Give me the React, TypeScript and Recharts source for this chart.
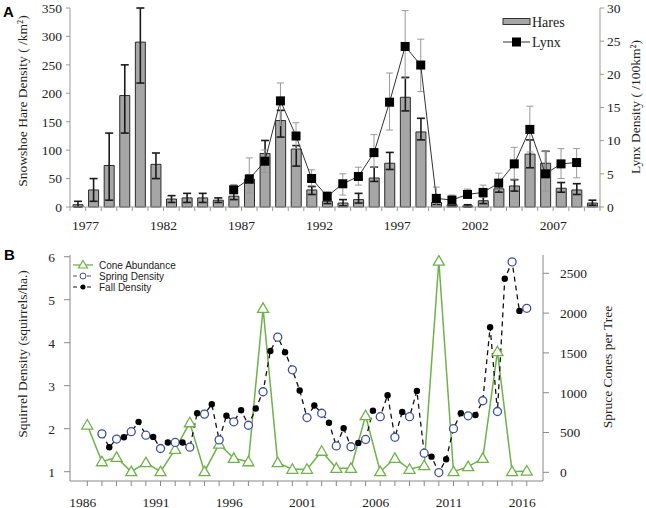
import React from 'react'
import { ComposedChart, Bar, Line, XAxis, YAxis, ErrorBar, Legend } from 'recharts'

// ---- Panel A: hares (bars) and lynx (line) ----
const hareYears = [
  1977, 1978, 1979, 1980, 1981, 1982, 1983, 1984, 1985, 1986, 1987, 1988,
  1989, 1990, 1991, 1992, 1993, 1994, 1995, 1996, 1997, 1998, 1999, 2000,
  2001, 2002, 2003, 2004, 2005, 2006, 2007, 2008, 2009, 2010,
]
const hares = [4, 30, 73, 196, 290, 75, 14, 16, 16, 12, 19, 49, 94, 152, 102, 30, 10, 7, 13, 51, 77, 193, 132, 8, 4, 2, 11, 32, 37, 93, 77, 33, 30, 7]
const hareLo = [0, 10, 12, 130, 218, 50, 8, 8, 8, 8, 13, 43, 78, 123, 72, 22, 6, 2, 7, 45, 66, 169, 118, 4, 2, 0, 6, 26, 28, 69, 54, 26, 22, 3]
const hareHi = [10, 50, 130, 250, 350, 95, 20, 24, 24, 16, 25, 56, 117, 170, 108, 36, 14, 13, 24, 70, 96, 228, 156, 12, 6, 4, 18, 40, 48, 118, 98, 43, 41, 12]

const lynxYears = [
  1987, 1988, 1989, 1990, 1991, 1992, 1993, 1994, 1995, 1996, 1997, 1998,
  1999, 2000, 2001, 2002, 2003, 2004, 2005, 2006, 2007, 2008, 2009,
]
const lynx = [2.6, 4.2, 6.9, 16.0, 10.7, 4.3, 1.6, 3.5, 4.6, 8.2, 15.8, 24.2, 21.4, 1.3, 1.05, 1.9, 2.2, 3.6, 6.5, 11.7, 5.0, 6.5, 6.7]
const lynxLo = [2.0, 2.1, 5.2, 12.3, 8.8, 3.2, 1.0, 1.8, 3.3, 6.0, 11.6, 19.4, 17.4, 0.2, 0.4, 1.3, 1.5, 2.6, 4.2, 8.3, 2.4, 4.3, 4.4]
const lynxHi = [3.4, 7.4, 8.6, 18.7, 12.7, 5.6, 2.3, 5.0, 6.0, 10.9, 20.2, 29.6, 25.3, 3.0, 1.8, 2.7, 3.3, 5.1, 9.0, 15.2, 8.4, 8.8, 8.8]

const hareTicks = [0, 50, 100, 150, 200, 250, 300, 350]
const lynxTicks = [0, 5, 10, 15, 20, 25, 30]

// ---- Panel B: squirrels and cones ----
const coneYears = [
  1986, 1987, 1988, 1989, 1990, 1991, 1992, 1993, 1994, 1995, 1996, 1997,
  1998, 1999, 2000, 2001, 2002, 2003, 2004, 2005, 2006, 2007, 2008, 2009,
  2010, 2011, 2012, 2013, 2014, 2015, 2016,
]
const cones = [594, 133, 188, 8, 121, 8, 289, 623, 8, 355, 176, 133, 2060, 121, 38, 38, 265, 50, 50, 711, 8, 176, 38, 83, 2654, 8, 71, 176, 1515, 8, 16]

const springYears = [
  1987, 1988, 1989, 1990, 1991, 1992, 1993, 1994, 1995, 1996, 1997, 1998,
  1999, 2000, 2001, 2002, 2003, 2004, 2005, 2006, 2007, 2008, 2009, 2010,
  2011, 2012, 2013, 2014, 2015, 2016,
]
const spring = [1.88, 1.76, 1.93, 1.85, 1.54, 1.68, 1.57, 2.34, 1.74, 2.16, 2.08, 2.86, 4.13, 3.37, 2.26, 2.36, 1.60, 1.58, 1.75, 2.28, 1.80, 2.28, 1.43, 0.98, 2.00, 2.30, 2.65, 2.40, 5.88, 4.80]

const fallYears = [
  1987, 1988, 1989, 1990, 1991, 1992, 1993, 1994, 1995, 1996, 1997, 1998,
  1999, 2000, 2001, 2002, 2003, 2004, 2005, 2006, 2007, 2008, 2009, 2010,
  2011, 2012, 2013, 2014, 2015,
]
const fall = [1.57, 1.80, 2.16, 1.81, 1.68, 1.68, 2.36, 2.57, 2.30, 2.43, 2.47, 3.81, 3.78, 2.89, 2.54, 2.14, 2.01, 1.67, 2.42, 2.78, 2.39, 2.88, 1.35, 1.29, 2.36, 2.32, 4.36, 5.49, 4.74]

const squirrelTicks = [1, 2, 3, 4, 5, 6]
const coneTicks = [0, 500, 1000, 1500, 2000, 2500]

// tables
const hareRows = hareYears.map((year, i) => {
  const j = lynxYears.indexOf(year)
  return {
    year,
    hares: hares[i],
    hareErr: [hares[i] - hareLo[i], hareHi[i] - hares[i]],
    lynx: j >= 0 ? lynx[j] : null,
    lynxErr: j >= 0 ? [lynx[j] - lynxLo[j], lynxHi[j] - lynx[j]] : null,
  }
})

const coneRows = coneYears.map((year, i) => ({ year, cones: cones[i] }))

// spring counts in spring, fall counts half a year later
const squirrelRows = [
  ...springYears.map((year, i) => ({ year, dens: spring[i], season: 'spring' })),
  ...fallYears.map((year, i) => ({ year: year + 0.5, dens: fall[i], season: 'fall' })),
].sort((a, b) => a.year - b.year)

const SERIF = '"Liberation Serif", "Times New Roman", serif'
const SANS = '"Liberation Sans", Arial, sans-serif'
const GREEN = '#6fb24a'
const BLUE = '#3d4fa1'

const A_PLOT_W = 530
const BAND = A_PLOT_W / hareYears.length

const VTitle = ({ cx, cy, text }: { cx: number; cy: number; text: string }) => (
  <text
    transform={`translate(${cx},${cy}) rotate(-90)`}
    textAnchor="middle"
    dominantBaseline="central"
    fontFamily={SERIF}
    fontSize={13.5}
    fill="#222"
  >
    {text}
  </text>
)

const YearTickA = (props: any) => {
  const { x, y, payload, index } = props
  const yr = Number(payload.value)
  const half = BAND / 2
  return (
    <g>
      <line x1={x - half} x2={x - half} y1={y} y2={y + 4} stroke="#999" />
      {index === hareYears.length - 1 && (
        <line x1={x + half} x2={x + half} y1={y} y2={y + 4} stroke="#999" />
      )}
      {(yr - 1977) % 5 === 0 && (
        <text x={x + half} y={y + 18} textAnchor="middle" dominantBaseline="central"
          fontFamily={SERIF} fontSize={13.5} fill="#222">
          {yr}
        </text>
      )}
    </g>
  )
}

const YearTickB = (props: any) => {
  const { x, y, payload } = props
  const yr = Number(payload.value)
  return (
    <g>
      <line x1={x} x2={x} y1={y} y2={y + 5} stroke="#888" />
      {(yr - 1986) % 5 === 0 && (
        <text x={x - 4.5} y={y + 21} textAnchor="middle" dominantBaseline="central"
          fontFamily={SERIF} fontSize={13.5} fill="#222">
          {yr}
        </text>
      )}
    </g>
  )
}

const LynxDot = (props: any) => {
  const { cx, cy, index } = props
  if (cx == null || cy == null) return <g key={`ld${index}`} />
  return <rect key={`ld${index}`} x={cx - 4.5} y={cy - 4.5} width={9} height={9} fill="#000" />
}

const TriDot = (props: any) => {
  const { cx, cy, index } = props
  if (cx == null || cy == null) return <g key={`td${index}`} />
  return (
    <path
      key={`td${index}`}
      d={`M${cx},${cy - 5.5} L${cx + 5.5},${cy + 4} L${cx - 5.5},${cy + 4} Z`}
      fill="#fff"
      stroke={GREEN}
      strokeWidth={1.3}
    />
  )
}

const SquirrelDot = (props: any) => {
  const { cx, cy, index, payload } = props
  if (cx == null || cy == null) return <g key={`sd${index}`} />
  if (payload.season === 'spring') {
    return <circle key={`sd${index}`} cx={cx} cy={cy} r={4} fill="#fff" stroke={BLUE} strokeWidth={1.3} />
  }
  return <circle key={`sd${index}`} cx={cx} cy={cy} r={3.2} fill="#000" />
}

const HareLegend = () => (
  <svg width={110} height={44}>
    <rect x={3} y={6.5} width={27} height={6} fill="#a6a6a6" stroke="#333" />
    <text x={32} y={14.5} fontFamily={SERIF} fontSize={14} fill="#222">Hares</text>
    <line x1={3} x2={30} y1={30} y2={30} stroke="#333" />
    <rect x={12} y={25.5} width={9} height={9} fill="#000" />
    <text x={32} y={35} fontFamily={SERIF} fontSize={14} fill="#222">Lynx</text>
  </svg>
)

const SquirrelLegend = () => (
  <svg width={140} height={36}>
    <line x1={3} x2={23} y1={6} y2={6} stroke={GREEN} strokeWidth={1.3} />
    <path d="M13,1.5 L17.5,9 L8.5,9 Z" fill="#fff" stroke={GREEN} strokeWidth={1.2} />
    <text x={29} y={9.5} fontFamily={SANS} fontSize={10} fill="#222">Cone Abundance</text>
    <line x1={3} x2={23} y1={17} y2={17} stroke={BLUE} strokeDasharray="4 3" />
    <circle cx={13} cy={17} r={3} fill="#fff" stroke={BLUE} />
    <text x={29} y={20.5} fontFamily={SANS} fontSize={10} fill="#222">Spring Density</text>
    <line x1={3} x2={23} y1={28} y2={28} stroke="#111" strokeDasharray="4 3" />
    <circle cx={13} cy={28} r={2.5} fill="#000" />
    <text x={29} y={31.5} fontFamily={SANS} fontSize={10} fill="#222">Fall Density</text>
  </svg>
)

const tickStyle = { fontFamily: SERIF, fontSize: 13.5, fill: '#222' }
const letterStyle: React.CSSProperties = {
  position: 'absolute', fontFamily: SANS, fontWeight: 'bold', fontSize: 15, lineHeight: '15px',
}

export default function App() {
  return (
    <div style={{ position: 'absolute', left: 0, top: 0, width: 646, height: 508, background: '#fff' }}>
      <div style={{ position: 'absolute', left: 0, top: 0 }}>
        <ComposedChart width={646} height={240} data={hareRows}
          margin={{ top: 8, right: 0, bottom: 0, left: 0 }}>
          <XAxis dataKey="year" interval={0} tickSize={0} tickMargin={0} height={33}
            axisLine={{ stroke: '#999' }} tick={<YearTickA />} />
          <YAxis yAxisId="left" orientation="left" width={70} domain={[0, 350]} ticks={hareTicks}
            tickSize={4} tickMargin={4} tick={tickStyle} axisLine={{ stroke: '#999' }} tickLine={{ stroke: '#999' }}
            label={<VTitle cx={22} cy={101} text="Snowshoe Hare Density ( /km²)" />} />
          <YAxis yAxisId="right" orientation="right" width={46} domain={[0, 30]} ticks={lynxTicks}
            tickSize={4} tickMargin={3} tick={{ ...tickStyle, textAnchor: 'start' }}
            axisLine={{ stroke: '#999' }} tickLine={{ stroke: '#999' }}
            label={<VTitle cx={635} cy={107} text="Lynx Density ( /100km²)" />} />
          <Legend layout="vertical" verticalAlign="middle" align="center"
            wrapperStyle={{ left: 500, top: 12, width: 110, height: 44 }}
            content={() => <HareLegend />} />
          <Bar yAxisId="left" dataKey="hares" barSize={10} fill="#a6a6a6" stroke="#2a2a2a"
            strokeWidth={1} isAnimationActive={false}>
            <ErrorBar dataKey="hareErr" width={4} stroke="#1a1a1a" strokeWidth={1.6} direction="y" />
          </Bar>
          <Line yAxisId="right" dataKey="lynx" stroke="#333" strokeWidth={1} dot={LynxDot}
            activeDot={false} isAnimationActive={false}>
            <ErrorBar dataKey="lynxErr" width={3.5} stroke="#999" strokeWidth={1} direction="y" />
          </Line>
        </ComposedChart>
      </div>
      <div style={{ ...letterStyle, left: 3, top: 4 }}>A</div>

      <div style={{ position: 'absolute', left: 0, top: 240 }}>
        <ComposedChart width={646} height={268} margin={{ top: 15, right: 0, bottom: 0, left: 0 }}>
          <XAxis dataKey="year" type="number" domain={[1984.82, 2017.11]} allowDataOverflow
            ticks={coneYears} interval={0} tickSize={0} tickMargin={0} height={27}
            axisLine={{ stroke: '#888' }} tick={<YearTickB />} />
          <YAxis yAxisId="left" orientation="left" width={70} domain={[0.784, 6.04]} allowDataOverflow
            ticks={squirrelTicks} tickSize={6} tickMargin={9} tick={tickStyle}
            axisLine={{ stroke: '#888' }} tickLine={{ stroke: '#888' }}
            label={<VTitle cx={22} cy={114} text="Squirrel Density (squirrels/ha.)" />} />
          <YAxis yAxisId="right" orientation="right" width={103} domain={[-109, 2730]} allowDataOverflow
            ticks={coneTicks} tickSize={6} tickMargin={11} tick={{ ...tickStyle, textAnchor: 'start' }}
            axisLine={{ stroke: '#888' }} tickLine={{ stroke: '#888' }}
            label={<VTitle cx={607} cy={127} text="Spruce Cones per Tree" />} />
          <Legend layout="vertical" verticalAlign="middle" align="center"
            wrapperStyle={{ left: 70, top: 19, width: 140, height: 36 }}
            content={() => <SquirrelLegend />} />
          <Line yAxisId="right" data={coneRows} dataKey="cones" stroke={GREEN} strokeWidth={1.5}
            dot={TriDot} activeDot={false} isAnimationActive={false} />
          <Line yAxisId="left" data={squirrelRows} dataKey="dens" stroke="#111" strokeWidth={1.3}
            strokeDasharray="5 4" dot={SquirrelDot} activeDot={false} isAnimationActive={false} />
        </ComposedChart>
      </div>
      <div style={{ ...letterStyle, left: 4, top: 247 }}>B</div>
    </div>
  )
}
